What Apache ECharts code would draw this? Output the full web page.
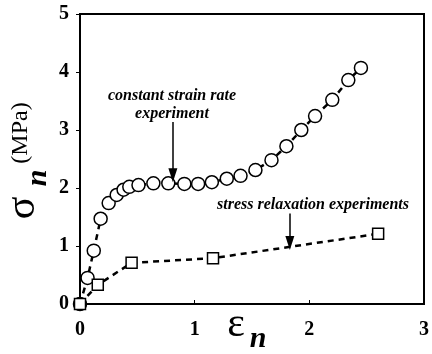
<!DOCTYPE html>
<html><head><meta charset="utf-8">
<script src="https://cdn.jsdelivr.net/npm/echarts@6/dist/echarts.min.js"></script>
<style>html,body{margin:0;padding:0;background:#fff}#c{width:432px;height:354px}</style>
</head><body><div id="c"></div>
<script>
// constant strain rate experiment (circles)
const strainX = [0, 0.066, 0.12, 0.18, 0.25, 0.32, 0.38, 0.43, 0.51, 0.64, 0.77, 0.91, 1.03, 1.15, 1.28, 1.40, 1.53, 1.67, 1.80, 1.93, 2.05, 2.20, 2.34, 2.45];
const strainY = [0, 0.45, 0.92, 1.47, 1.74, 1.88, 1.97, 2.02, 2.05, 2.08, 2.08, 2.07, 2.07, 2.10, 2.16, 2.21, 2.31, 2.48, 2.72, 3.00, 3.24, 3.52, 3.86, 4.07];
// stress relaxation experiments (squares)
const relaxX = [0, 0.155, 0.45, 1.16, 2.60];
const relaxY = [0, 0.33, 0.71, 0.79, 1.21];
const xTicks = [0, 1, 2, 3];
const yTicks = [0, 1, 2, 3, 4, 5];

const serif = '"Liberation Serif",serif';
const chart = echarts.init(document.getElementById('c'));
const zip = (a, b) => a.map((v, i) => [v, b[i]]);
const arrowML = (x, y0, y1) => ({
  silent: true, symbol: ['none', 'path://M0,0L4,14L-4,14Z'], symbolSize: [9, 14],
  lineStyle: {color: '#000', width: 1.5, type: 'solid'}, label: {show: false},
  data: [[{coord: [x, y0]}, {coord: [x, y1]}]]
});
const ann = {fontFamily: serif, fontWeight: 'bold', fontStyle: 'italic', fontSize: 16, fill: '#000', align: 'center', verticalAlign: 'middle'};
chart.setOption({
  animation: false,
  grid: {left: 80, right: 4, top: 14, bottom: 50, show: true, borderColor: '#000', borderWidth: 2},
  xAxis: {
    type: 'value', min: 0, max: 3, interval: 1,
    axisLine: {show: true, lineStyle: {color: '#000', width: 2}},
    axisTick: {show: true, inside: true, length: 4, lineStyle: {color: '#000'}},
    splitLine: {show: false},
    axisLabel: {color: '#000', fontFamily: serif, fontWeight: 'bold', fontSize: 20, margin: 16,
      formatter: v => xTicks.includes(v) ? String(v) : ''}
  },
  yAxis: {
    type: 'value', min: 0, max: 5, interval: 1,
    axisLine: {show: true, lineStyle: {color: '#000', width: 2}},
    axisTick: {show: true, inside: false, length: 4, lineStyle: {color: '#000'}},
    splitLine: {show: false},
    axisLabel: {color: '#000', fontFamily: serif, fontWeight: 'bold', fontSize: 20, margin: 11,
      formatter: v => yTicks.includes(v) ? String(v) : ''}
  },
  series: [
    {
      type: 'line', data: zip(strainX, strainY),
      symbol: 'circle', symbolSize: 13, showAllSymbol: true,
      itemStyle: {color: '#fff', borderColor: '#000', borderWidth: 1.5},
      lineStyle: {color: '#000', width: 2.5, type: [6, 5]},
      z: 3,
      markLine: arrowML(0.81, 3.14, 2.22)
    },
    {
      type: 'line', data: zip(relaxX, relaxY),
      symbol: 'rect', symbolSize: 11,
      itemStyle: {color: '#fff', borderColor: '#000', borderWidth: 1.5},
      lineStyle: {color: '#000', width: 2.5, type: [6, 5]},
      z: 3,
      markLine: arrowML(1.83, 1.56, 1.05)
    }
  ],
  graphic: [
    {type: 'text', style: Object.assign({x: 172, y: 96, text: 'constant strain rate'}, ann)},
    {type: 'text', style: Object.assign({x: 172, y: 114, text: 'experiment'}, ann)},
    {type: 'text', style: Object.assign({x: 313, y: 205, text: 'stress relaxation experiments'}, ann)},
    // x-axis title
    {type: 'text', style: {x: 236, y: 325, text: 'ε', fontFamily: serif, fontSize: 42, fill: '#000', align: 'center', verticalAlign: 'middle'}},
    {type: 'text', style: {x: 258, y: 339, text: 'n', fontFamily: serif, fontSize: 30, fontWeight: 'bold', fontStyle: 'italic', fill: '#000', align: 'center', verticalAlign: 'middle'}},
    // y-axis title (rotated)
    {type: 'text', x: 23, y: 208, rotation: Math.PI / 2, style: {x: 0, y: 0, text: 'σ', fontFamily: serif, fontSize: 42, fill: '#000', align: 'center', verticalAlign: 'middle'}},
    {type: 'text', x: 38, y: 178, rotation: Math.PI / 2, style: {x: 0, y: 0, text: 'n', fontFamily: serif, fontSize: 30, fontWeight: 'bold', fontStyle: 'italic', fill: '#000', align: 'center', verticalAlign: 'middle'}},
    {type: 'text', x: 21, y: 133, rotation: Math.PI / 2, style: {x: 0, y: 0, text: '(MPa)', fontFamily: serif, fontSize: 24, fill: '#000', align: 'center', verticalAlign: 'middle'}}
  ]
});
</script></body></html>
